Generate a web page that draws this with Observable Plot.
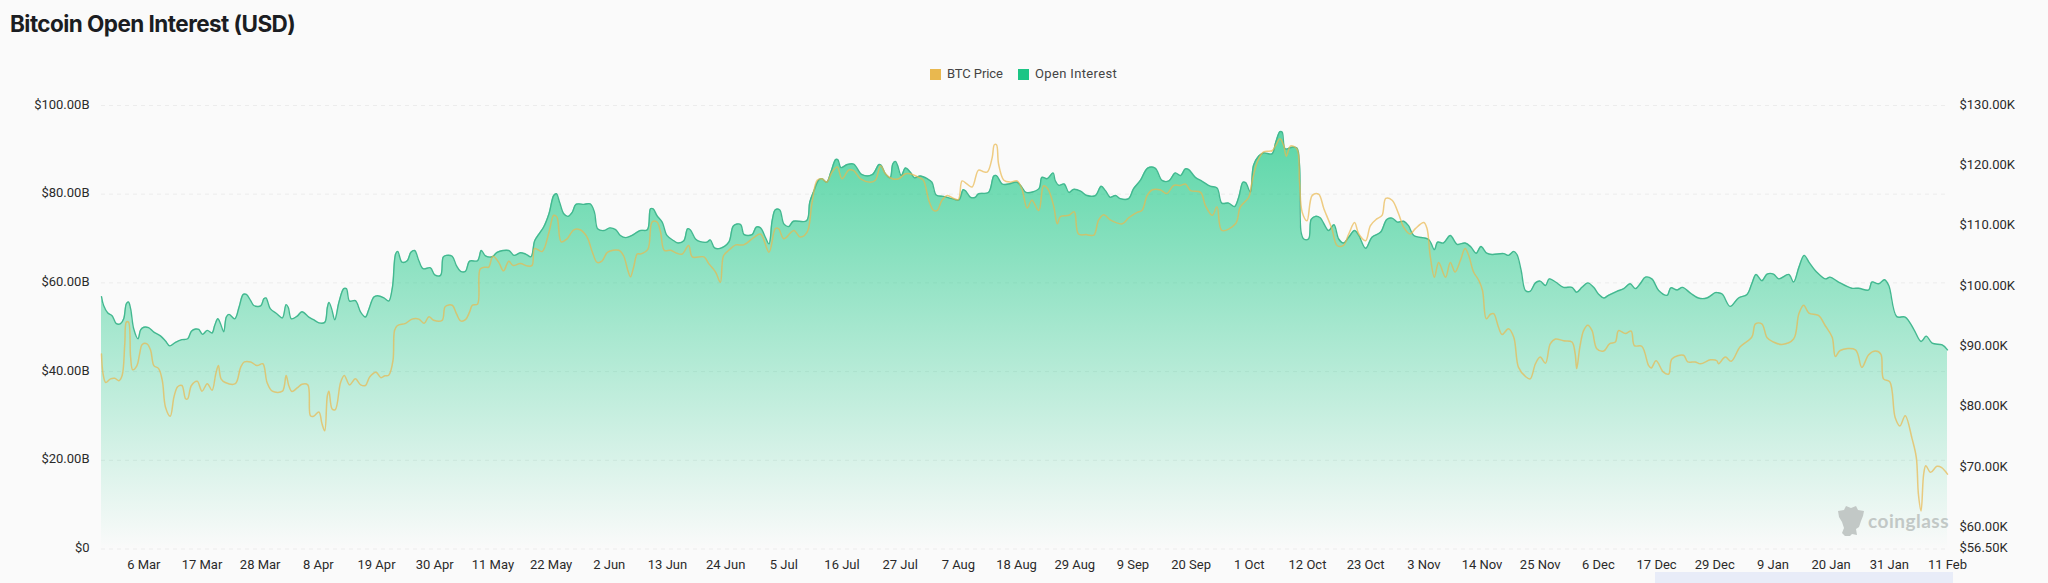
<!DOCTYPE html>
<html>
<head>
<meta charset="utf-8">
<script src="https://cdn.jsdelivr.net/npm/d3@7"></script>
<script src="https://cdn.jsdelivr.net/npm/@observablehq/plot@0.6"></script>
<style>
  html, body { margin: 0; padding: 0; background: #fafafa; width: 2048px; height: 583px; overflow: hidden; }
  #page { position: relative; width: 2048px; height: 583px; }
  #title { position: absolute; left: 10px; top: 9px; font: 700 22.5px/30px Inter, sans-serif; letter-spacing: -0.55px; color: #1b1d22; }
  #legend { position: absolute; top: 65px; left: 0; width: 2048px; height: 18px; font: 13px/18px Roboto, sans-serif; color: #444; }
  #legend i { position: absolute; top: 4px; width: 11px; height: 11px; }
  #legend span { position: absolute; top: 0; }
  #chart { position: absolute; left: 0; top: 90px; }
  #chart svg { display: block; background: transparent; }
  #scrollbar { position: absolute; left: 1655px; top: 572px; width: 298px; height: 11px; background: #e8ecf8; }
  #mark { position: absolute; left: 1838px; top: 506px; width: 26px; height: 30px; }
  #markText { position: absolute; left: 1868px; top: 506px; font: 700 19px/30px Lato, sans-serif; letter-spacing: 0.5px; color: #c2c8c6; }
</style>
</head>
<body>
<div id="page">
  <div id="title">Bitcoin Open Interest (USD)</div>
  <div id="legend">
    <i style="left:930px;background:#e9b84f"></i><span style="left:947px;letter-spacing:-0.1px">BTC Price</span>
    <i style="left:1018px;background:#1cc585"></i><span style="left:1035px;letter-spacing:0.35px">Open Interest</span>
  </div>
  <div id="chart"></div>
  <div id="scrollbar"></div>
  <svg id="mark" viewBox="0 0 26 30"><path fill="#c2c8c6" d="M0 5 L6 4 L8 0 L13 2 L18 0 L20 4 L26 5 L25 10 L23 15 L21 21 L18 23 L19 29 L14 28 L12 30 L7 30 L4 27 L6 22 L4 16 L1 11 Z"/></svg>
  <div id="markText">coinglass</div>
</div>
<script>
const tickLabels = ["6 Mar","17 Mar","28 Mar","8 Apr","19 Apr","30 Apr","11 May","22 May","2 Jun","13 Jun","24 Jun","5 Jul","16 Jul","27 Jul","7 Aug","18 Aug","29 Aug","9 Sep","20 Sep","1 Oct","12 Oct","23 Oct","3 Nov","14 Nov","25 Nov","6 Dec","17 Dec","29 Dec","9 Jan","20 Jan","31 Jan","11 Feb"];
const firstTickIndex = 8, tickStep = 11, lastIndex = 349;
const tickIndex = tickLabels.map((_, i) => firstTickIndex + i * tickStep);

const oiTicks = [0, 20, 40, 60, 80, 100];
const priceTicks = [56.5, 60, 70, 80, 90, 100, 110, 120, 130];

const oiIndex = [0,0.4,1.2,2,2.8,3.6,4.2,4.7,5.1,5.5,6.1,6.9,7.4,8,8.9,9.9,11.2,12.1,12.9,14,15.2,16.3,17,17.8,18.4,19.1,20,20.9,21.4,22,22.5,23.1,23.6,24.1,25.2,26,26.8,27.4,28.2,28.8,30.1,30.7,31.1,31.9,33.2,34.2,34.9,35.3,35.9,37,37.9,39.2,40.1,41.1,42.2,42.7,43,43.5,44.1,44.9,45.8,46.3,46.9,48,49,49.9,50.5,
51.5,52.2,53.4,54.3,55,55.6,56,56.8,57.8,58.5,59.2,60,60.8,62.2,63,64.1,64.6,65.2,66.3,67.1,67.9,68.8,69.6,71.1,71.8,72.6,73.9,74.8,77,78,79.2,80.2,81.2,81.9,82.7,83.6,84.6,85.5,86,86.6,87.4,88.2,89,89.7,91.2,92.4,93.2,93.8,95,96.1,97.2,98.1,99.1,100.3,101.8,
103.2,103.8,104.3,105,106,106.9,108.2,109,110.1,110.8,111.3,112.3,113.2,114.5,115.1,115.9,117,118.6,119.5,120.8,121.5,123,123.8,124.6,125.5,126.2,126.8,127.4,128.2,129,129.9,130.8,133.3,133.9,134.7,135.6,136.2,137.1,137.9,138.8,139.2,139.8,141,142.2,143.8,145.7,147,147.4,148.2,149.1,149.6,150.1,150.5,151.2,152,
152.9,153.7,154.8,156.1,157,157.8,159.2,160.8,162.1,162.9,163.3,164.3,165.2,165.8,167.7,168.7,169.2,170.3,171.5,173.1,174,174.8,177.2,177.8,178.8,179.9,180.3,181,182,182.9,183.8,185.1,186.3,187.9,189,189.8,190.7,191.7,192.6,194.2,195.1,196.4,197.8,199.2,200.5,201.8,203,204,
204.9,205.5,206.8,208.1,209.6,210.9,211.8,213.1,214.2,215,215.8,216.3,217.2,217.8,218.8,219.7,221.3,222,222.8,223.2,223.8,225.1,226,226.5,226.8,227.3,228.2,228.7,229.5,230.4,232,233,233.9,234.8,235.8,236.9,237.7,239,240.2,241.8,243,244,245,246.2,247.1,248.1,250.9,252,252.6,253.7,255,
256.3,257.8,258.9,259.9,260.8,261.9,262.9,265.1,266,267,267.6,268.4,269.2,270.1,271.1,272,273,273.7,274.9,276.4,278,278.9,279.9,281,282.1,283,284,284.9,286.5,287.8,289,290,290.9,291.9,293.1,294.4,296,296.7,297.9,298.9,300.4,301.9,303.5,305.1,
305.5,306.4,307.9,309.5,311.1,312,312.8,313.9,314.9,316.1,317.1,319,319.9,320.9,321.9,322.8,324.3,325.9,326.8,328.4,330.9,332.2,334.1,334.7,336,337.1,337.9,339.4,341,342.6,344,345,346.1,348,349];
const oiValue = [56.9,54.9,53.2,52.6,50.8,50.8,51.9,55.3,55.7,54.2,49.6,47.4,49.4,50,49.9,48.9,48,46.9,45.8,46.6,47.2,47.4,49.1,49.6,49.5,48.4,49.3,48.7,50.4,51.9,50.8,49,52.3,52.9,51.9,54.5,57.4,57.4,56,54.9,54.8,56.4,56.6,54.2,53,52.1,55.1,54.5,51.9,52.5,53.5,52.3,51.7,51,51.1,54.5,55.6,54.2,51.7,55.7,58.7,58.7,55.9,56,53.4,52.3,53.9,
56.8,57.1,56.6,55.9,59,66.5,67.1,64.7,65,66.9,67.3,65,63.2,63.4,61.8,61.7,65.8,66.2,66,63.9,62.6,62.6,64.9,65,67.3,66.1,65.9,66.9,67.3,66.2,66.8,66.5,65.9,69.5,71,72.6,75.6,79.7,80.1,78.2,75.6,75,75.9,77.7,77.7,77.8,75.9,72.2,71.8,72.4,72,70.7,70.2,70.7,71.8,
72,76.7,76.7,75.2,73.7,70.7,69.5,69,69.5,72.2,72,69.9,69.3,69.2,69.7,67.9,67.8,69.2,72.9,73.2,70.9,70.9,72.6,72.4,70.3,68.8,74.1,76.5,76.5,73.3,72.7,73.9,74,78.2,80.8,83.2,83.5,82.7,85,87.8,87.8,86,86.7,86.8,84.4,84.4,86.7,86.5,84.6,83.7,86.8,87.4,86.5,84.2,85.9,
85,83.7,84.1,83.5,82.7,79.8,79.5,79,78.7,81,80.8,79.3,79.3,80.1,80.4,84.1,84.2,82.3,82.3,82.7,81.6,80.4,81.2,83.8,83.5,84.8,83.1,82,82.3,80.4,81.1,80.7,79.7,79.7,81.8,80.8,79.3,79.7,79,79,81.2,83.1,85.9,85.9,83.1,83,84.8,84.2,
85.7,85.6,83.8,82.9,81.8,81.4,78,78,77.2,79.3,82.7,82.6,80.5,86.5,88.6,89.3,89.1,91.7,94.1,94,90.2,90.6,90.4,86.5,71.4,69.9,69.9,74.3,75,74.7,71.8,73.1,69.9,69,70.3,71.8,70.7,67.8,70.3,71.4,74.3,74.6,73.7,73.9,72.9,70.7,69.8,67.5,69.2,69,70.7,
68.7,69,68.1,66.7,68.2,66.7,66.4,66.6,66.2,67.1,66.4,62.8,58.3,58.1,60,60.4,59.4,60.9,60.2,59,59,57.9,59,60,59,57.5,56.6,57.2,58.1,58.7,59.8,58.7,59.8,61.3,60.9,58.3,57.2,58.9,58.4,59,57.7,56.6,56.6,57.8,
57.8,57.5,54.7,56.6,57.4,59.8,61.9,60.5,62,62,60.9,61.9,60.2,63.5,66.2,64.7,62.4,60.9,61.3,60.2,58.8,58.8,58.4,60.2,59.8,60.7,59.4,52.4,52.3,49.6,46.8,48,46.4,46,44.9];

const priceIndex = [0,0.3,0.8,1.7,2.5,3.3,3.9,4.4,4.7,5.1,5.5,5.9,6.7,7.2,7.7,8.6,9.3,9.9,10.8,11.5,12.1,13,13.7,14.4,15.2,15.9,16.3,17,18.1,19,20,20.9,21.6,22.1,22.6,23.4,25.3,26.3,27,28.2,29.4,30.5,31.3,32.3,34.2,34.9,35.4,36,37,37.9,39,39.5,40.1,41.1,41.7,42.2,42.7,43,43.6,44.2,45.2,45.9,46.9,48,49,49.9,50.7,
51.9,52.8,53.6,54.3,55.1,55.4,55.9,57.5,58.7,60,61,61.9,62.8,64.4,65,66.3,67.1,67.9,68.8,69.6,70.1,71.1,71.6,72.6,73.2,74,75.1,76,77,77.8,79.2,80.5,81.4,81.9,83.3,84.6,85.5,86.1,86.9,88,89.3,90.5,91.8,92.8,93.7,94.6,95.7,97.8,98.7,99.5,100,100.6,101.3,
101.9,103.3,104.1,105,105.7,106.4,107.6,108.8,109.8,111,111.7,113.9,114.8,116.1,117,117.6,118.6,119.9,121.4,123.3,124.6,126.2,127.4,128,129,130.9,132.1,133.4,134.3,135.3,136.2,137.1,138.1,139.1,140,141.3,142.2,143.5,145.4,146.3,147.3,148.2,149.5,150.7,152,
152.9,154.5,155.4,156.4,157.3,158,158.9,159.9,161.1,162,162.7,163.6,164.6,165.8,166.8,167.5,168.4,168.8,169.2,169.6,170.6,171.8,173.1,174,175,175.9,177.2,178.1,178.9,180,180.7,181.3,182.9,183.9,184.7,186.3,187.6,188.5,189.5,190.7,193,194.2,195.8,196.7,197.7,198.6,200.2,201.4,202.7,204,
204.9,205.9,207.8,208.7,210,210.9,211.8,214.4,215.3,216.9,217.5,218.5,219.7,221.3,222,222.8,223.5,224,224.8,226,226.5,227,227.9,228.9,230.1,231.1,232.6,233.6,234.8,235.8,236.9,237.7,239,239.9,241.1,242.1,242.8,244,245.2,246.2,247.4,248.4,250,250.6,251.2,252,252.8,254.1,255,
255.9,256.9,257.8,258.5,259.4,260.4,261.1,261.8,262.6,263.2,264.1,264.8,266,267,267.9,269.2,270.1,271.1,272,273,273.9,274.9,276.4,278,278.6,278.9,279.5,280.2,281,281.8,282.7,284,285.1,286.2,286.8,288.1,289.2,289.8,291.2,292.5,293,293.9,295.3,296.3,296.9,299.1,299.9,301.3,302.3,304.2,305.4,
305.7,307,308.1,309.8,312,312.7,313.9,314.9,316.1,317.7,319.9,320.9,321.8,322.8,324.6,325.9,327.2,327.8,328.7,331.6,332.8,334.1,335.4,336.4,336.9,338.1,339.1,340,341,342.3,343.1,343.5,344,344.5,344.9,345.8,347,347.9,349];
const priceValue = [88.8,85.5,84.1,84.7,84.8,84.4,85.25,90.5,94.1,94.1,88.3,86.2,86.9,88.8,90.4,90.5,89.4,86.9,86.4,84.4,80,78.5,81.7,83.4,83.6,81.4,81.4,83.6,84.3,82.65,83.9,82.8,85.5,86.9,84.7,84.1,83.9,86.6,87.5,87.5,86.9,87.2,84.1,82.65,82.65,85.25,83.6,82.6,83.2,83.8,83.7,78.6,78.5,79.2,77.2,76.1,81.9,82.65,79.7,79.6,84.1,85.25,83.7,84.7,83.7,83.6,85,
85.8,84.9,85.2,85.3,87.7,92.7,93.5,93.9,94.6,94.6,93.9,95,94.4,94.4,96.7,96.9,95.5,94.3,94.5,95.8,96.9,97.1,102.9,103.2,103.2,105,104,102.6,104.2,103.5,103.8,103.4,103.5,106.3,105.8,109,111.8,111.5,107.4,107.9,109.4,109.4,108.2,105.7,104,104.2,105.7,106,105.1,102.7,101.6,103.2,105.4,
105.4,106.2,110.7,110.7,109,106,106,105.5,105.4,106.8,104.9,104.9,103.8,102.4,100.7,105.1,106,106.9,106.9,108.1,108.7,105.7,109.6,109.6,107.9,109.3,108.2,109,113.7,117.6,117.85,117.3,118.95,119.8,117.85,119.3,119.2,117.85,117.3,117.6,120,118.7,117.85,117.85,118.7,
118.7,118.1,117.6,114.3,112.6,112.6,114.3,115.1,114.6,114.4,117.5,117,116.5,119.3,119,119,121.4,123.5,123.5,120.3,117.6,117.3,117.5,116.2,113,114.3,112.6,116.7,116.2,113.4,110.4,111.6,111.8,112.4,108.7,108.6,108.5,111,111.9,111.05,110.4,111.4,112.3,112.6,115.1,116,116,115.4,116.75,116.75,
117,115.9,115.6,113.4,111.8,113.2,109.3,110.4,113.2,114.8,117.3,120.6,122.3,122.5,123.4,124.5,123.4,121.6,123.3,122.8,117.3,112.3,110.9,115.1,115.3,112.9,109.6,106.8,106.8,108.7,110.6,108.7,107.6,110.1,111.2,111.8,114.6,114.3,112.1,109.8,108.7,109.6,110.6,109.6,105.1,101.55,104,101.55,104,
102.4,104.3,106.3,105.1,102.4,101,99.3,94.65,95.4,95.5,93.3,92.05,93,91.6,86.6,85.1,84.7,87.2,88.3,87.3,90.5,91.3,91,90.8,88.9,86.4,90,92.7,93.6,92.7,89.7,89.3,90.5,90.8,92.7,92.2,92.6,90.2,90.1,86.9,86.5,87.7,85.8,85.5,88,88.6,87.5,87.5,87.2,87.85,87.7,
87.2,88.3,87.6,90,91.6,93.8,93.8,91.5,90.8,90.4,91.3,95.5,96.9,95.6,95.2,93.5,91.6,88.4,89.4,89.5,86.6,88.7,89.3,88.8,84.7,84.2,78.3,76.9,78.6,74.8,71.7,65.6,62.8,68.95,70.3,69.2,70.2,70,68.9];

const oiRows = oiIndex.map((i, k) => ({ i, v: oiValue[k] }));
const priceRows = priceIndex.map((i, k) => ({ i, v: priceValue[k] }));

// the right axis (price, thousands) is mapped onto the shared y scale
const priceMin = 56.5, priceMax = 130;
const priceOnY = p => (p - priceMin) / (priceMax - priceMin) * 100;

const gradient = () => {
  const ns = "http://www.w3.org/2000/svg";
  const defs = document.createElementNS(ns, "defs");
  const lg = document.createElementNS(ns, "linearGradient");
  lg.setAttribute("id", "oiFill");
  lg.setAttribute("x1", "0"); lg.setAttribute("y1", "0");
  lg.setAttribute("x2", "0"); lg.setAttribute("y2", "1");
  [[0, 0.70], [1, 0.0]].forEach(([o, a]) => {
    const s = document.createElementNS(ns, "stop");
    s.setAttribute("offset", o);
    s.setAttribute("stop-color", "#16c784");
    s.setAttribute("stop-opacity", a);
    lg.appendChild(s);
  });
  defs.appendChild(lg);
  return defs;
};

const axisFont = { fontFamily: "Roboto, sans-serif", fontSize: 13, fill: "#2a2a2a" };

const chart = Plot.plot({
  width: 2048,
  height: 493,
  marginLeft: 101,
  marginRight: 101,
  marginTop: 15,
  marginBottom: 34.5,
  style: { background: "transparent" },
  x: { type: "linear", domain: [0, lastIndex] },
  y: { type: "linear", domain: [0, 100] },
  marks: [
    gradient,
    Plot.ruleY(oiTicks, { stroke: "#ececec", strokeWidth: 1, strokeDasharray: "4,4" }),
    Plot.areaY(oiRows, { x: "i", y: "v", curve: "catmull-rom", fill: "url(#oiFill)" }),
    Plot.lineY(oiRows, { x: "i", y: "v", curve: "catmull-rom", stroke: "#43b890", strokeWidth: 1.4 }),
    Plot.lineY(priceRows, { x: "i", y: d => priceOnY(d.v), curve: "catmull-rom", stroke: "#e9b84f", strokeOpacity: 0.7, strokeWidth: 1.5 }),
    Plot.axisY({ ticks: oiTicks, tickSize: 0, tickPadding: 12, label: null, dy: -1, tickFormat: d => d === 0 ? "$0" : `$${d}.00B`, ...axisFont }),
    Plot.axisY({ anchor: "right", ticks: priceTicks.map(priceOnY), tickSize: 0, tickPadding: 12, label: null, dy: -1,
      tickFormat: d => { const p = priceMin + d / 100 * (priceMax - priceMin); return `$${p.toFixed(2)}K`; }, ...axisFont }),
    Plot.axisX({ ticks: tickIndex, tickSize: 0, tickPadding: 11, label: null, tickFormat: d => tickLabels[(d - firstTickIndex) / tickStep], ...axisFont })
  ]
});
document.getElementById("chart").appendChild(chart);
</script>
</body>
</html>
